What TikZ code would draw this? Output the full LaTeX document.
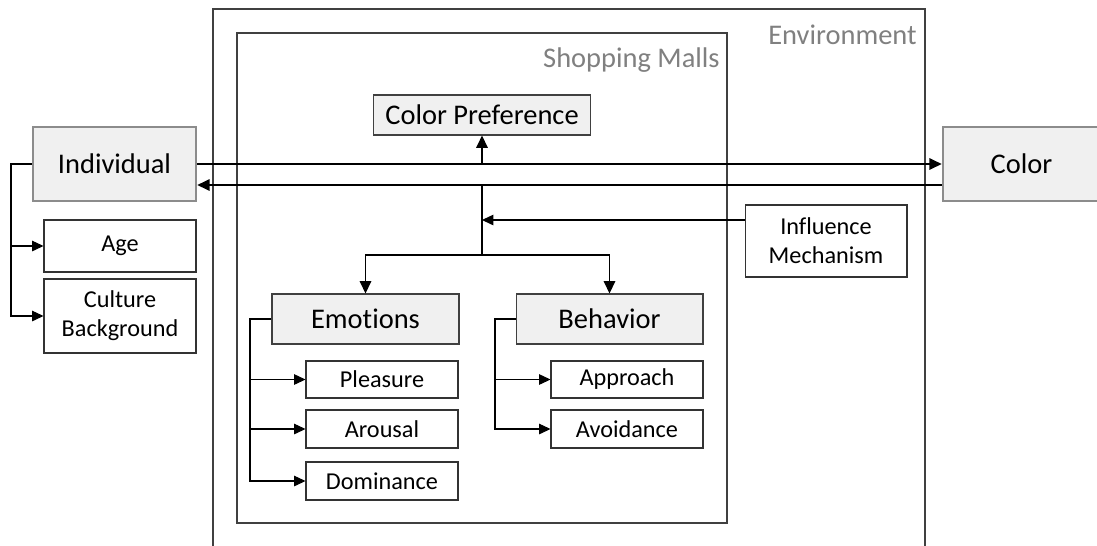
\documentclass[tikz,border=0pt]{standalone}
\usepackage{fontspec}
\setmainfont{Carlito}[Ligatures=NoCommon]
\usetikzlibrary{arrows.meta,positioning}

\begin{document}
\begin{tikzpicture}[x=0.02cm,y=-0.02cm,
    big/.style={font=\fontsize{16.2}{19}\selectfont},
    small/.style={font=\fontsize{13.8}{16.6}\selectfont,align=center},
    item/.style={draw=black!80,line width=0.6pt,inner sep=0pt,small},
    head/.style={draw=black!75,fill=black!6,line width=0.6pt,inner sep=0pt,big},
    actor/.style={draw=black!45,fill=black!6,line width=1.5pt,inner sep=0pt,big},
    frame/.style={draw=black!75,line width=0.7pt},
    title/.style={text=black!50,big,anchor=east,inner sep=0pt},
    link/.style={line width=0.9pt,-{Triangle[length=7pt,width=6.5pt]}},
    rail/.style={line width=0.6pt,-{Triangle[length=6.5pt,width=6pt]}}]

  \useasboundingbox (0,0) rectangle (1097,545);

  % frames
  \draw[frame] (213,560) -- (213,9) -- (925,9) -- (925,560);
  \draw[frame] (237,33) rectangle (727,523);
  \path (917,35) node[title] (env) {Environment};
  \path (720,60) node[title] (mall) {Shopping Malls};

  % boxes
  \path (114.5,164) node[actor,minimum width=3.26cm,minimum height=1.48cm] (indiv) {Individual};
  \path (1021.5,164) node[actor,minimum width=3.14cm,minimum height=1.48cm] (color) {Color};
  \path (482,115) node[head,minimum width=4.34cm,minimum height=0.8cm] (cpref) {Color Preference};
  \path (120,246) node[item,minimum width=3.04cm,minimum height=1.04cm] (age) {Age};
  \path (120,316) node[item,minimum width=3.04cm,minimum height=1.48cm] (culture) {Culture\\Background};
  \path (826,241) node[item,minimum width=3.24cm,minimum height=1.44cm] (influence) {Influence\\Mechanism};
  \path (365.5,319) node[head,minimum width=3.74cm,minimum height=1cm] (emo) {Emotions};
  \path (609.5,319) node[head,minimum width=3.74cm,minimum height=1cm] (beh) {Behavior};
  \path (382,379.5) node[item,minimum width=3.04cm,minimum height=0.74cm] (pleasure) {Pleasure};
  \path (382,429) node[item,minimum width=3.04cm,minimum height=0.76cm] (arousal) {Arousal};
  \path (382,481) node[item,minimum width=3.04cm,minimum height=0.76cm] (dominance) {Dominance};
  \path (627,379.5) node[item,minimum width=3.04cm,minimum height=0.74cm] (approach) {Approach};
  \path (627,429) node[item,minimum width=3.04cm,minimum height=0.76cm] (avoidance) {Avoidance};

  % main flow
  \coordinate (back) at (482,185);
  \coordinate (hub) at (482,255);
  \coordinate (infl) at (482,220);
  \draw[link] (indiv.east) -- (indiv.east -| color.west);
  \draw[link] (color.west |- back) -- (indiv.east |- back);
  \draw[link] (cpref.south |- indiv.east) -- (cpref.south);
  \draw[line width=0.9pt] (back) -- (hub);
  \draw[link] (hub) -| (emo.north);
  \draw[link] (hub) -| (beh.north);
  \draw[rail] (influence.west |- infl) -- (infl);

  % sub items
  \coordinate (irail) at (11,0);
  \coordinate (erail) at (250,0);
  \coordinate (brail) at (495,0);
  \draw[rail] (indiv.west) -| (irail |- culture.west) -- (culture.west);
  \draw[rail] (irail |- age.west) -- (age.west);
  \draw[rail] (emo.west) -| (erail |- dominance.west) -- (dominance.west);
  \draw[rail] (erail |- pleasure.west) -- (pleasure.west);
  \draw[rail] (erail |- arousal.west) -- (arousal.west);
  \draw[rail] (beh.west) -| (brail |- avoidance.west) -- (avoidance.west);
  \draw[rail] (brail |- approach.west) -- (approach.west);
\end{tikzpicture}
\end{document}
